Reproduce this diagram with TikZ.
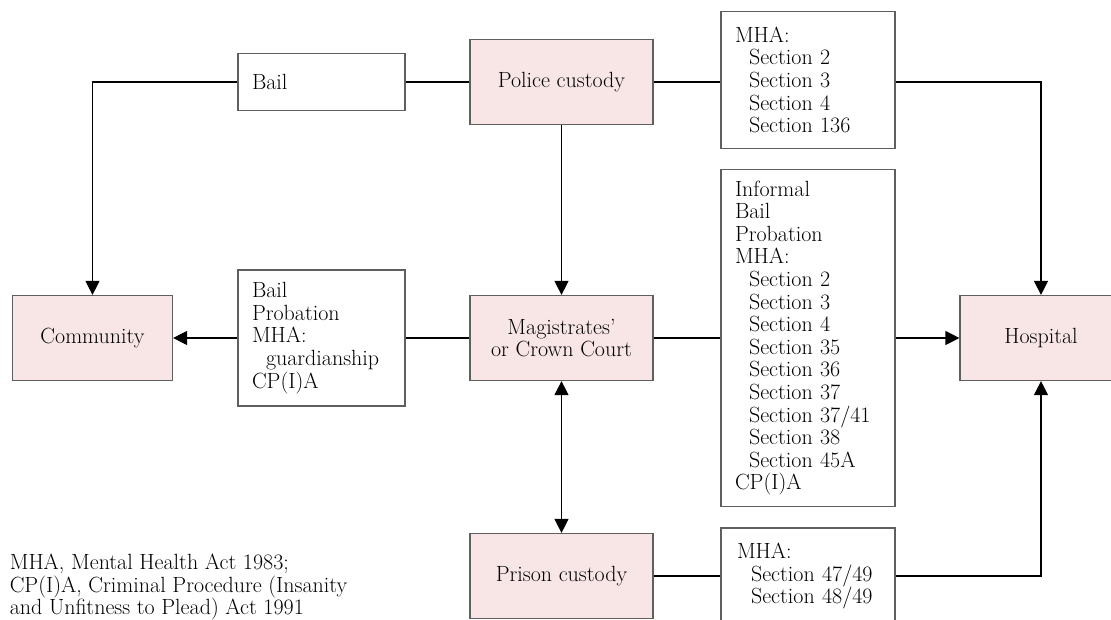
\documentclass[tikz,border=0pt]{standalone}
\usetikzlibrary{arrows.meta}
\definecolor{boxpink}{RGB}{248,230,231}
\definecolor{boxedge}{RGB}{95,95,95}
\begin{document}
\begin{tikzpicture}[x=1pt,y=-1pt,
  font=\fontsize{22}{22.6}\selectfont,
  pinkbox/.style={draw=boxedge, fill=boxpink, line width=1.2pt, minimum height=85pt, minimum width=183pt, inner sep=0pt, align=center},
  whitebox/.style={draw=boxedge, fill=white, line width=1.2pt, inner xsep=14pt, inner ysep=0pt, align=left},
  conn/.style={line width=1.2pt, draw=black},
  arr/.style={conn, -{Triangle[length=14pt,width=14pt]}},
  darr/.style={conn, {Triangle[length=14pt,width=14pt]}-{Triangle[length=14pt,width=14pt]}},
  foot/.style={anchor=base west, inner sep=0pt}]
\useasboundingbox (0,0) rectangle (1111,620);
\clip (0,0) rectangle (1111,620);
\newcommand{\ind}{\hspace*{14pt}}

\node[whitebox, text width=139pt, minimum height=57pt] (bailA) at (321.5,82) {Bail};
\node[pinkbox] (police) at (561.5,82) {Police custody};
\node[whitebox, text width=146pt, minimum height=137pt] (mhaA) at (808,80) {MHA:\\\ind Section 2\\\ind Section 3\\\ind Section 4\\\ind Section 136};

\node[pinkbox, minimum width=160pt] (comm) at (92.5,338) {Community};
\node[whitebox, text width=139pt, minimum height=136pt] (bailB) at (321.5,338) {Bail\\Probation\\MHA:\\\ind guardianship\\CP(I)A};
\node[pinkbox] (mag) at (561.5,338) {Magistrates'\\or Crown Court};
\node[whitebox, text width=146pt, minimum height=337pt] (mhaB) at (808,338) {Informal\\Bail\\Probation\\MHA:\\\ind Section 2\\\ind Section 3\\\ind Section 4\\\ind Section 35\\\ind Section 36\\\ind Section 37\\\ind Section 37/41\\\ind Section 38\\\ind Section 45A\\CP(I)A};
\node[pinkbox, minimum width=162pt] (hosp) at (1041,338) {Hospital};

\node[pinkbox] (prison) at (561.5,576) {Prison custody};
\node[whitebox, text width=142pt, minimum height=96pt, inner xsep=16pt] (mhaC) at (808,576) {MHA:\\\ind Section 47/49\\\ind Section 48/49};

\node[foot] (foot1) at (9.6,569.5) {MHA, Mental Health Act 1983;};
\node[foot] (foot2) at (9.6,592) {CP(I)A, Criminal Procedure (Insanity};
\node[foot] (foot3) at (9.6,614.5) {and Unfitness to Plead) Act 1991};

\draw[conn] (police.west) -- (bailA.east);
\draw[arr] (bailA.west) -| (comm.north);
\draw[conn] (police.east) -- (police.east -| mhaA.west);
\draw[arr] (police.east -| mhaA.east) -| (hosp.north);
\draw[arr] (police.south) -- (mag.north);
\draw[arr] (bailB.west) -- (comm.east);
\draw[conn] (mag.west) -- (bailB.east);
\draw[conn] (mag.east) -- (mhaB.west);
\draw[arr] (mhaB.east) -- (hosp.west);
\draw[darr] (mag.south) -- (prison.north);
\draw[conn] (prison.east) -- (mhaC.west);
\draw[arr] (mhaC.east) -| (hosp.south);
\end{tikzpicture}
\end{document}
